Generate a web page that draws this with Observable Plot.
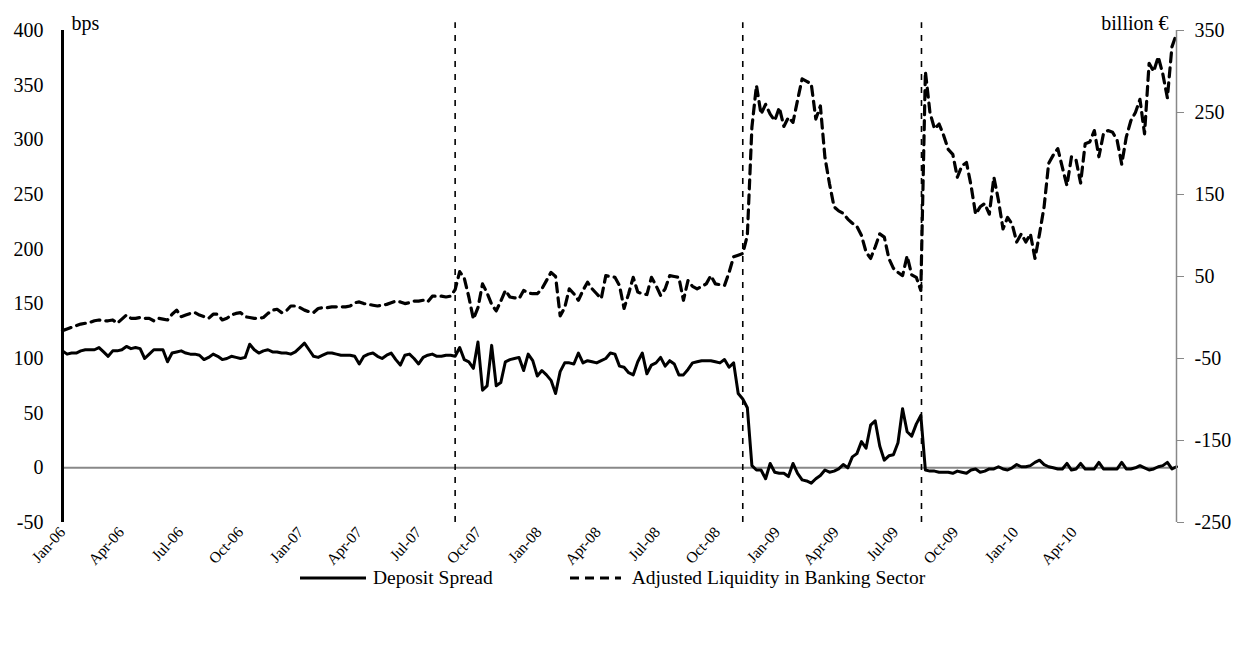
<!DOCTYPE html>
<html><head><meta charset="utf-8">
<script src="https://cdn.jsdelivr.net/npm/d3@7"></script>
<script src="https://cdn.jsdelivr.net/npm/@observablehq/plot@0.6"></script>
<style>
body{margin:0;background:#fff;font-family:"Liberation Serif","Times New Roman",serif;color:#000;}
#chart{height:566px;}
#legend{position:relative;display:flex;align-items:center;height:24px;padding-left:300px;font-size:19.5px;line-height:24px;white-space:nowrap;}
#legend svg{display:block;}
</style></head><body>
<div id="chart"></div>
<div id="legend"></div>
<script>
// ---- data (weekly observations starting at startDate) ----
const startDate = "2006-01-01";
const depositSpread = [
107,104,105,105,107,108,108,108,110,106,
102,107,107,108,111,109,110,109,100,104,
108,108,108,97,105,106,107,105,104,104,
103,99,101,104,102,99,100,102,101,100,
101,113,108,105,107,108,106,106,105,105,
104,106,110,114,108,102,101,103,105,105,
104,103,103,103,102,95,102,104,105,102,
100,103,105,99,94,103,104,100,95,101,
103,104,102,102,103,103,102,110,99,97,
91,115,71,75,112,75,78,97,99,100,
101,89,104,98,84,89,85,80,68,88,
96,96,95,105,96,98,97,96,98,100,
105,104,93,92,87,85,97,105,86,94,
96,101,93,98,95,85,85,90,96,97,
98,98,98,97,96,99,92,96,68,63,
55,2,-2,-2,-10,4,-4,-5,-5,-8,
4,-5,-11,-12,-14,-10,-7,-2,-4,-3,
-1,3,0,10,13,24,18,39,43,20,
7,11,12,23,54,33,29,40,48,-2,
-3,-3,-4,-4,-4,-5,-3,-4,-5,-2,
-1,-4,-3,-1,-1,1,-1,-2,0,3,
1,1,2,5,7,3,1,0,-1,-1,
4,-2,-1,4,-1,-1,-1,5,-1,-1,
-1,-1,5,-1,-1,0,2,0,-2,-1,
1,2,5,-1,1
];
const liquidity = [
-16,-14,-12,-10,-8,-7,-6,-4,-3,-4,
-4,-3,-7,-2,3,-1,-1,0,-1,-1,
-4,-1,-2,-3,4,9,1,3,5,6,
3,1,-1,4,4,-3,-1,3,5,6,
1,0,-1,-1,0,5,9,10,6,8,
14,14,12,9,7,6,11,12,12,13,
13,13,13,14,18,19,17,16,15,14,
15,16,18,20,19,17,18,20,20,21,
19,26,26,26,25,26,34,56,48,25,
-2,12,41,30,16,8,20,33,25,24,
23,33,30,29,29,35,45,55,50,2,
12,35,29,21,33,43,35,29,23,51,
50,49,39,11,29,49,31,29,28,49,
39,27,35,51,50,49,21,45,38,35,
38,41,51,41,40,39,55,74,76,78,
100,232,283,248,260,248,240,256,233,244,
238,265,291,288,285,242,258,195,163,135,
130,127,120,115,111,100,80,72,86,102,
98,72,60,55,51,75,52,49,33,300,
250,230,236,222,205,199,171,185,189,161,
126,135,139,126,171,143,108,122,114,92,
102,92,102,72,102,135,188,198,206,183,
161,196,192,164,212,214,228,196,224,228,
226,216,187,220,240,250,266,224,310,300,
318,297,268,330,346
];
const eventDates = ["2007-08-26", "2008-11-09", "2009-08-10"];
const quarterTicks = ["2006-01-01","2006-04-01","2006-07-01","2006-10-01","2007-01-01","2007-04-01","2007-07-01","2007-10-01","2008-01-01","2008-04-01","2008-07-01","2008-10-01","2009-01-01","2009-04-01","2009-07-01","2009-10-01","2010-01-01","2010-04-01"];
const quarterLabels = ["Jan-06","Apr-06","Jul-06","Oct-06","Jan-07","Apr-07","Jul-07","Oct-07","Jan-08","Apr-08","Jul-08","Oct-08","Jan-09","Apr-09","Jul-09","Oct-09","Jan-10","Apr-10"];
const leftTicks = [-50,0,50,100,150,200,250,300,350,400];
const rightTicks = [-250,-150,-50,50,150,250,350];
const seriesNames = ["Deposit Spread", "Adjusted Liquidity in Banking Sector"];

// ---- helpers ----
const leftDomain = [-50, 400];
const rightDomain = [-250, 350];
const k = (leftDomain[1] - leftDomain[0]) / (rightDomain[1] - rightDomain[0]);
const toLeft = v => leftDomain[0] + (v - rightDomain[0]) * k;
const fromLeft = v => rightDomain[0] + (v - leftDomain[0]) / k;

const start = new Date(startDate);
const dateAt = i => d3.utcDay.offset(start, 7 * i);
const spreadData = depositSpread.map((v, i) => ({date: dateAt(i), v}));
const liqData = liquidity.map((v, i) => ({date: dateAt(i), v: toLeft(v)}));
const end = dateAt(Math.max(depositSpread.length, liquidity.length) - 1);
const tickDates = quarterTicks.map(s => new Date(s));
const labelOf = new Map(tickDates.map((d, i) => [+d, quarterLabels[i]]));
const events = eventDates.map(s => new Date(s));

const chart = Plot.plot({
  width: 1244,
  height: 570,
  marginLeft: 62,
  marginRight: 68,
  marginTop: 30,
  marginBottom: 48,
  style: {fontFamily: "'Liberation Serif','Times New Roman',serif", fontSize: "20px", color: "#000", background: "transparent", overflow: "visible"},
  x: {type: "utc", domain: [start, end]},
  y: {domain: leftDomain},
  marks: [
    Plot.ruleY([0], {stroke: "#888", strokeWidth: 2}),
    Plot.ruleX(events, {y1: leftDomain[0], y2: 407, stroke: "#000", strokeWidth: 1.6, strokeDasharray: "6,7"}),
    Plot.line(liqData, {x: "date", y: "v", stroke: "#000", strokeWidth: 3.2, strokeDasharray: "9,6", strokeLinejoin: "round"}),
    Plot.line(spreadData, {x: "date", y: "v", stroke: "#000", strokeWidth: 3, strokeLinejoin: "round"}),
    Plot.ruleX([start], {y1: leftDomain[0], y2: leftDomain[1], stroke: "#000", strokeWidth: 3}),
    Plot.ruleX([end], {y1: leftDomain[0], y2: leftDomain[1], stroke: "#888", strokeWidth: 1.5}),
    Plot.axisY({anchor: "left", ticks: leftTicks, tickSize: 0, tickPadding: 19, tickFormat: d => String(d), fontSize: 20, label: null}),
    Plot.axisY({anchor: "right", ticks: rightTicks.map(toLeft), tickSize: 7, tickPadding: 11, stroke: "#888", fill: "#000",
      tickFormat: d => String(Math.round(fromLeft(d))), fontSize: 20, label: null}),
    Plot.axisX({ticks: tickDates, tickFormat: d => labelOf.get(+d), tickRotate: -48, tickSize: 0, tickPadding: 7, fontSize: 15.5, label: null}),
    Plot.text(["bps"], {frameAnchor: "top-left", dx: 9, dy: -1, textAnchor: "start", lineAnchor: "bottom", fontSize: 20}),
    Plot.text(["billion €"], {frameAnchor: "top-right", dx: -8, dy: -1, textAnchor: "end", lineAnchor: "bottom", fontSize: 20})
  ]
});
document.getElementById("chart").appendChild(chart);

// ---- legend ----
const legend = document.getElementById("legend");
legend.innerHTML = `
  <svg width="66" height="10"><line x1="0" x2="66" y1="5" y2="5" stroke="#000" stroke-width="3"/></svg>
  <span style="margin-left:7px">${seriesNames[0]}</span>
  <svg width="52" height="10" style="margin-left:76px"><line x1="1" x2="52" y1="5" y2="5" stroke="#000" stroke-width="3" stroke-dasharray="9,6"/></svg>
  <span style="margin-left:11px">${seriesNames[1]}</span>`;
</script>
</body></html>
